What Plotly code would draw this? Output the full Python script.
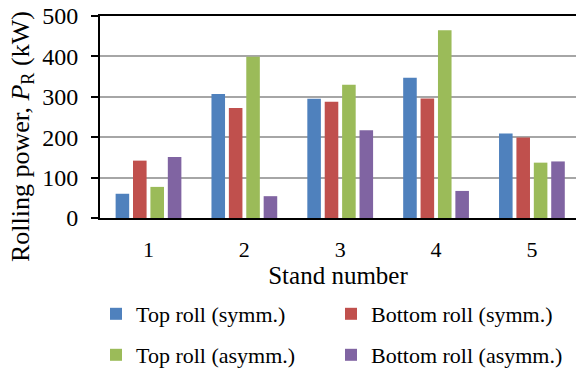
import plotly.graph_objects as go

stands = [1, 2, 3, 4, 5]
stand_labels = ["1", "2", "3", "4", "5"]
top_symm = [60, 307, 295, 347, 209]
bottom_symm = [142, 272, 288, 296, 199]
top_asymm = [77, 399, 330, 465, 137]
bottom_asymm = [151, 54, 217, 67, 140]
y_ticks = [0, 100, 200, 300, 400, 500]

FONT = "Liberation Serif"
W, H = 576, 368
L, T, B = 100, 16, 150
PH = H - T - B
PW = W - L

series = [
    ("Top roll (symm.)", top_symm, "#4F81BD", "legend"),
    ("Bottom roll (symm.)", bottom_symm, "#C0504D", "legend"),
    ("Top roll (asymm.)", top_asymm, "#9BBB59", "legend2"),
    ("Bottom roll (asymm.)", bottom_asymm, "#8064A2", "legend2"),
]

fig = go.Figure()
for name, vals, col, lg in series:
    fig.add_trace(go.Bar(x=stands, y=vals, name=name, marker_color=col,
                         marker_line_width=0, legend=lg))

legend_common = dict(orientation="h", xref="container", yref="container",
                     xanchor="left", yanchor="middle", entrywidth=190,
                     entrywidthmode="pixels", bgcolor="rgba(0,0,0,0)",
                     font=dict(family=FONT, size=22, color="black"),
                     itemclick=False, itemdoubleclick=False)

fig.update_layout(
    width=W, height=H,
    margin=dict(l=L, r=0, t=T, b=B),
    paper_bgcolor="white", plot_bgcolor="white",
    barmode="group", bargap=0.274, bargroupgap=0.22,
    font=dict(family=FONT, size=22, color="black"),
    showlegend=True,
    legend=dict(x=96 / W, y=1 - 314 / H, **legend_common),
    legend2=dict(x=96 / W, y=1 - 355 / H, **legend_common),
    xaxis=dict(
        range=[0.494, 5.46], tickmode="array", tickvals=stands, ticktext=stand_labels,
        showline=True, linecolor="black", linewidth=2, mirror=True,
        ticks="", showgrid=False, zeroline=False,
        tickfont=dict(family=FONT, size=22, color="black"),
        ticklabelstandoff=11, automargin=False,
        title=dict(text="Stand number", font=dict(family=FONT, size=25, color="black"), standoff=2),
    ),
    yaxis=dict(
        range=[0, 500], tickmode="array", tickvals=y_ticks,
        showline=True, linecolor="black", linewidth=2, mirror=False,
        ticks="outside", ticklen=7, tickwidth=2, tickcolor="black",
        showgrid=True, gridcolor="#A6A6A6", gridwidth=2, zeroline=False,
        tickfont=dict(family=FONT, size=24, color="black"),
        ticklabelstandoff=8, automargin=False, ticklabeloverflow="allow",
    ),
)

fig.add_annotation(
    text="Rolling power, <i>P</i><sub>R</sub> (kW)",
    xref="paper", yref="paper",
    x=(22 - L) / PW, y=(T + PH - 137) / PH,
    xanchor="center", yanchor="middle", textangle=-90, showarrow=False,
    font=dict(family=FONT, size=26, color="black"),
)

fig.write_html("out.html", config={"displayModeBar": False},
               post_script="document.body.style.margin='0';")
